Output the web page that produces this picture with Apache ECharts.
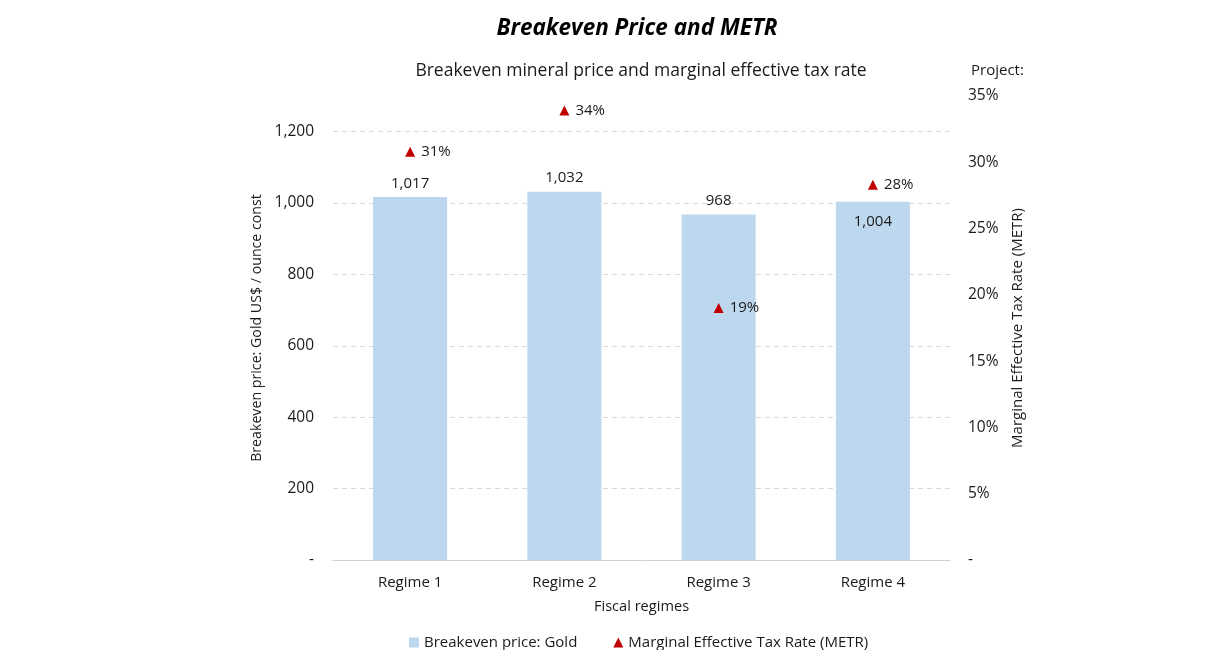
<!DOCTYPE html>
<html>
<head>
<meta charset="utf-8">
<script src="https://cdn.jsdelivr.net/npm/echarts@6/dist/echarts.min.js"></script>
<style>
  html, body { margin: 0; padding: 0; background: #fff; }
  #container { width: 1206px; height: 650px; }
</style>
</head>
<body>
<div id="container"></div>
<script>
// data
const regimes = ['Regime 1', 'Regime 2', 'Regime 3', 'Regime 4'];
const breakevenPrice = [1017, 1032, 968, 1004];
const metr = [30.8, 33.9, 19.0, 28.3];
const priceLabelPos = ['top', 'top', 'top', 'insideTop'];

const FONT = '"Open Sans", sans-serif';
const TEXT = '#1a1a1a';

const formatThousands = (v) => (v === 0 ? '-' : v.toLocaleString('en-US'));

const chart = echarts.init(document.getElementById('container'));
const option = {
  backgroundColor: '#ffffff',
  textStyle: { fontFamily: FONT, color: TEXT },
  title: [
    {
      text: 'Breakeven Price and METR',
      left: 632, top: 12, textAlign: 'center',
      textStyle: { fontFamily: FONT, fontSize: 22.5, fontWeight: 'bold', fontStyle: 'italic', color: '#000' },
    },
    {
      text: 'Breakeven mineral price and marginal effective tax rate',
      left: 636, top: 57, textAlign: 'center',
      textStyle: { fontFamily: FONT, fontSize: 17.5, fontWeight: 'normal', color: TEXT },
    },
    {
      text: 'Project:',
      left: 966, top: 58,
      textStyle: { fontFamily: FONT, fontSize: 15, fontWeight: 'normal', color: TEXT },
    },
  ],
  legend: {
    top: 630, left: 404, itemGap: 36, itemWidth: 10, itemHeight: 10,
    textStyle: { fontFamily: FONT, fontSize: 15, color: TEXT },
    data: [
      { name: 'Breakeven price: Gold', icon: 'rect' },
      { name: 'Marginal Effective Tax Rate (METR)', icon: 'triangle' },
    ],
  },
  grid: { left: 333, right: 256, top: 96, bottom: 90 },
  xAxis: {
    type: 'category',
    data: regimes,
    name: 'Fiscal regimes',
    nameLocation: 'middle',
    nameGap: 39,
    nameTextStyle: { fontFamily: FONT, fontSize: 14.6, color: TEXT },
    axisLine: { lineStyle: { color: '#d0d0d0', width: 1 } },
    axisTick: { show: false },
    axisLabel: { fontFamily: FONT, fontSize: 15, color: TEXT, margin: 15 },
  },
  yAxis: [
    {
      type: 'value',
      min: 0, max: 1300, interval: 200,
      name: 'Breakeven price: Gold US$ / ounce const',
      nameLocation: 'middle', nameGap: 68,
      nameTextStyle: { fontFamily: FONT, fontSize: 14.2, color: TEXT },
      axisLine: { show: false },
      axisTick: { show: false },
      axisLabel: { fontFamily: FONT, fontSize: 15.5, color: TEXT, margin: 19, showMaxLabel: false, formatter: formatThousands },
      splitLine: { show: true, showMinLine: false, showMaxLine: false, lineStyle: { color: '#d9d9d9', type: [5, 4] } },
    },
    {
      type: 'value',
      min: 0, max: 35, interval: 5,
      name: 'Marginal Effective Tax Rate (METR)',
      nameLocation: 'middle', nameGap: 60, nameRotate: 90,
      nameTextStyle: { fontFamily: FONT, fontSize: 15, color: TEXT },
      axisLine: { show: false },
      axisTick: { show: false },
      axisLabel: { fontFamily: FONT, fontSize: 15.5, color: TEXT, margin: 18, formatter: (v) => (v === 0 ? '-' : v + '%') },
      splitLine: { show: false },
    },
  ],
  series: [
    {
      name: 'Breakeven price: Gold',
      type: 'bar',
      barWidth: '48%',
      itemStyle: { color: '#bdd7ee' },
      data: breakevenPrice.map((v, i) => ({
        value: v,
        label: { position: priceLabelPos[i], distance: priceLabelPos[i] === 'top' ? 6 : 13 },
      })),
      label: {
        show: true, fontFamily: FONT, fontSize: 15, color: TEXT,
        formatter: (p) => p.value.toLocaleString('en-US'),
      },
    },
    {
      name: 'Marginal Effective Tax Rate (METR)',
      type: 'scatter',
      yAxisIndex: 1,
      symbol: 'triangle',
      symbolSize: 10,
      itemStyle: { color: '#c00000', opacity: 1 },
      data: metr,
      label: {
        show: true, position: 'right', distance: 6,
        fontFamily: FONT, fontSize: 15, color: TEXT, opacity: 1,
        formatter: (p) => Math.round(p.value) + '%',
      },
    },
  ],
};
chart.setOption(option);
</script>
</body>
</html>
